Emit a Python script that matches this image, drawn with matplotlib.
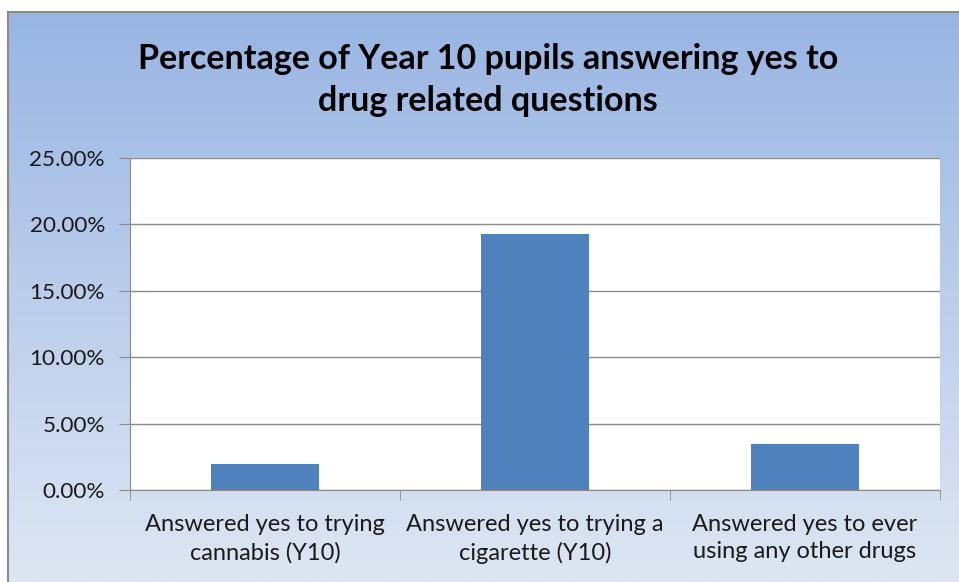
import numpy as np
import matplotlib
matplotlib.use("Agg")
import matplotlib.pyplot as plt
from matplotlib.ticker import FuncFormatter

categories = ["Answered yes to trying\ncannabis (Y10)",
              "Answered yes to trying a\ncigarette (Y10)",
              "Answered yes to ever\nusing any other drugs"]
values = [1.96, 19.25, 3.45]   # percent
title = "Percentage of Year 10 pupils answering yes to\ndrug related questions"

W, H = 959, 582
fig = plt.figure(figsize=(W / 100, H / 100), dpi=100)
fig.patch.set_facecolor("white")

# chart area background gradient (Excel style), below a thin white strip
bg = fig.add_axes([8 / W, 0, 1 - 8 / W, (H - 12) / H], zorder=0)
top = np.array([152, 181, 227]) / 255
bot = np.array([222, 230, 243]) / 255
t = np.linspace(0, 1, 256)[:, None]
grad = top[None, :] * (1 - t) + bot[None, :] * t
bg.imshow(grad[:, None, :], aspect="auto", extent=[0, 1, 0, 1])
bg.set_xticks([])
bg.set_yticks([])
for side in ["right", "bottom"]:
    bg.spines[side].set_visible(False)
for side in ["top", "left"]:
    bg.spines[side].set_color("#8c8c8c")
    bg.spines[side].set_linewidth(1.5)

ax = fig.add_axes([130 / W, (H - 490) / H, 810 / W, 332 / H], zorder=1)
ax.set_facecolor("white")

x = np.arange(len(categories))
ax.bar(x, values, width=0.4, color="#4F81BD", zorder=3)

ax.set_xlim(-0.5, len(categories) - 0.5)
ax.set_ylim(0, 25)
ax.set_yticks(np.arange(0, 26, 5))
ax.yaxis.set_major_formatter(FuncFormatter(lambda v, p: "%.2f%%" % v))
ax.grid(axis="y", color="#8a8a8a", linewidth=1, zorder=0)

ax.set_xticks(x)
ax.set_xticklabels(categories, fontsize=17, family="Lato", color="#1a1a1a",
                   linespacing=1.4)
ax.set_xticks(np.arange(len(categories) + 1) - 0.5, minor=True)
ax.tick_params(axis="x", which="major", length=0, pad=17)
ax.tick_params(axis="x", which="minor", length=7, color="#8a8a8a")
ax.tick_params(axis="y", length=8, color="#8a8a8a", pad=10,
               labelsize=16.2, labelcolor="#1a1a1a")
for lab in ax.get_yticklabels():
    lab.set_family("Lato")

for side in ["top", "right"]:
    ax.spines[side].set_visible(False)
ax.spines["left"].set_color("#8a8a8a")
ax.spines["bottom"].set_color("#8a8a8a")

fig.text(488 / W, 1 - 80 / H, title, ha="center", va="center",
         fontsize=24.5, fontweight="bold", family="Lato", linespacing=1.38)

fig.savefig("out.png", dpi=100)
